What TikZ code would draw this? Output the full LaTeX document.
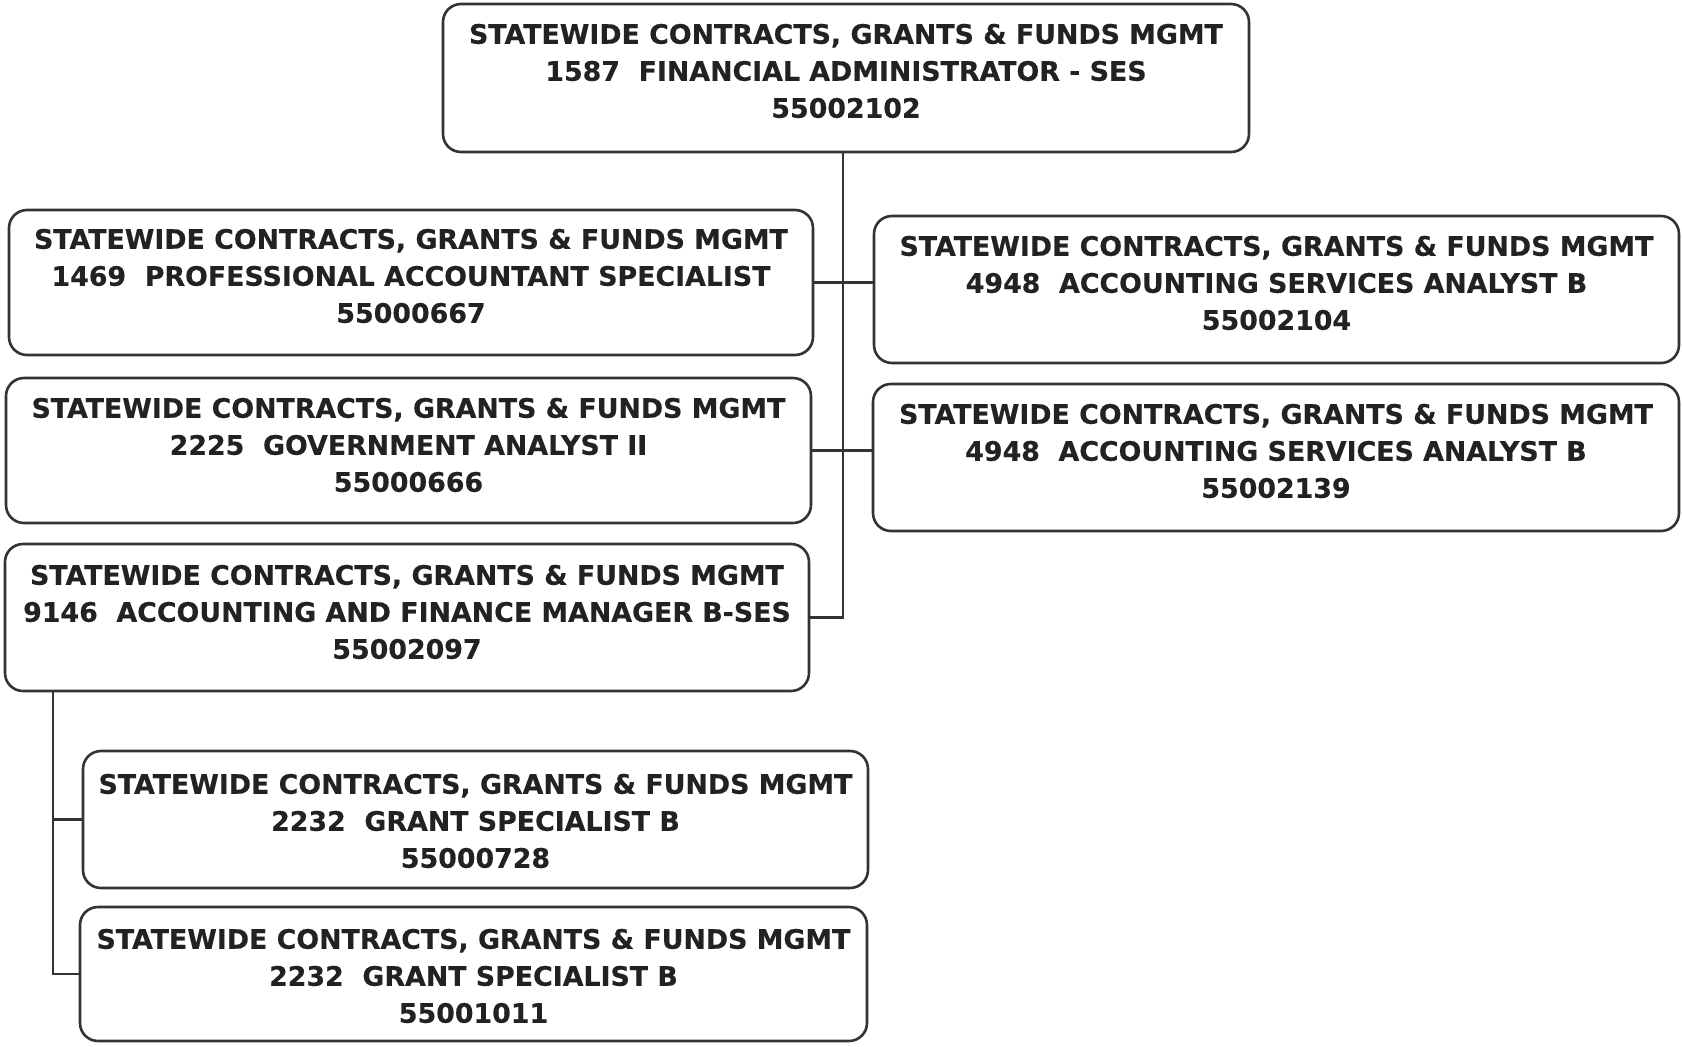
\documentclass[tikz,border=0pt]{standalone}
\usepackage{fontspec}
\setmainfont{DejaVu Sans}[BoldFeatures={FakeBold=0.4}]
\definecolor{ink}{HTML}{222222}
\definecolor{rule}{HTML}{333333}
\begin{document}
\begin{tikzpicture}[x=1pt,y=-1pt,
  unit/.style={draw=rule,line width=2.6pt,rounded corners=18pt,inner sep=0pt},
  label/.style={text=ink,align=center,inner sep=0pt,
    font=\fontsize{26.8}{37}\selectfont\bfseries},
  link/.style={draw=rule,line width=2.4pt}]
\useasboundingbox[fill=white] (0,0) rectangle (1682,1047);

% boxes
\node[unit,minimum width=806pt,minimum height=148pt] (top) at (846,78) {};
\node[unit,minimum width=804pt,minimum height=145pt] (L1) at (411,282.5) {};
\node[unit,minimum width=805pt,minimum height=145pt] (L2) at (408.5,450.5) {};
\node[unit,minimum width=804pt,minimum height=147pt] (L3) at (407,617.5) {};
\node[unit,minimum width=805pt,minimum height=147pt] (R1) at (1276.5,289.5) {};
\node[unit,minimum width=806pt,minimum height=147pt] (R2) at (1276,457.5) {};
\node[unit,minimum width=785pt,minimum height=137pt] (B1) at (475.5,819.5) {};
\node[unit,minimum width=787pt,minimum height=134pt] (B2) at (473.5,974) {};

% texts
\node[label] (top-t) at (846,71) {STATEWIDE CONTRACTS, GRANTS \& FUNDS MGMT\\1587\ \ FINANCIAL ADMINISTRATOR - SES\\55002102};
\node[label] (L1-t) at (411,276) {STATEWIDE CONTRACTS, GRANTS \& FUNDS MGMT\\1469\ \ PROFESSIONAL ACCOUNTANT SPECIALIST\\55000667};
\node[label] (L2-t) at (408.5,445) {STATEWIDE CONTRACTS, GRANTS \& FUNDS MGMT\\2225\ \ GOVERNMENT ANALYST II\\55000666};
\node[label] (L3-t) at (407,612) {STATEWIDE CONTRACTS, GRANTS \& FUNDS MGMT\\9146\ \ ACCOUNTING AND FINANCE MANAGER B-SES\\55002097};
\node[label] (R1-t) at (1276.5,283) {STATEWIDE CONTRACTS, GRANTS \& FUNDS MGMT\\4948\ \ ACCOUNTING SERVICES ANALYST B\\55002104};
\node[label] (R2-t) at (1276,451) {STATEWIDE CONTRACTS, GRANTS \& FUNDS MGMT\\4948\ \ ACCOUNTING SERVICES ANALYST B\\55002139};
\node[label] (B1-t) at (475.5,821) {STATEWIDE CONTRACTS, GRANTS \& FUNDS MGMT\\2232\ \ GRANT SPECIALIST B\\55000728};
\node[label] (B2-t) at (473.5,976) {STATEWIDE CONTRACTS, GRANTS \& FUNDS MGMT\\2232\ \ GRANT SPECIALIST B\\55001011};

% trunk lines
\coordinate (j) at (843,0);
\coordinate (k) at (53,0);
\draw[link] (top.south -| j) -- (L3.east -| j) -- (L3.east);
\draw[link] (L1.east) -- (L1.east -| R1.west);
\draw[link] (L2.east) -- (L2.east -| R2.west);
\draw[link] (L3.south -| k) -- (B2.west -| k) -- (B2.west);
\draw[link] (B1.west -| k) -- (B1.west);
\end{tikzpicture}
\end{document}
